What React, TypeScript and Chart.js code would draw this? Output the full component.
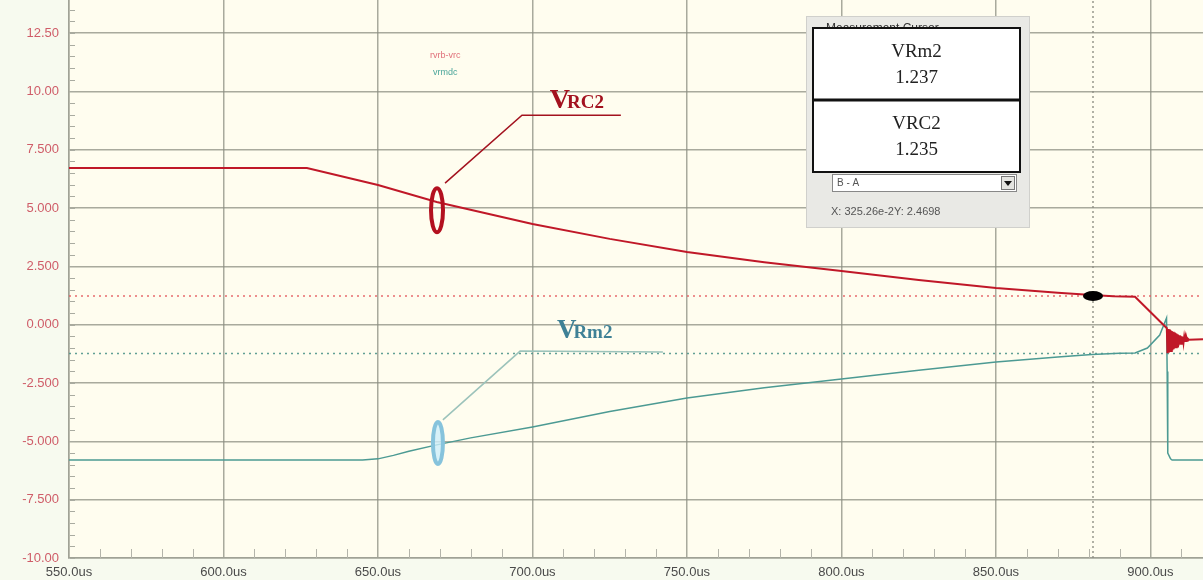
import React, { useEffect, useRef } from 'react';
import { Chart, registerables } from 'chart.js';

Chart.register(...registerables);

// ---- Axis ticks ----
const xTicks = [550, 600, 650, 700, 750, 800, 850, 900];
const yTicks = [12.5, 10, 7.5, 5, 2.5, 0, -2.5, -5, -7.5, -10];
const yTickLabels = ['12.50', '10.00', '7.500', '5.000', '2.500', '0.000', '-2.500', '-5.000', '-7.500', '-10.00'];

// ---- VRC2 (red) waveform, time in us, value in V ----
const vrcTime = [550, 627, 650, 669, 700, 725, 750, 775, 800, 825, 850, 870, 881, 888, 895, 905.3,
  905.5, 905.7, 905.9, 906.1, 906.3, 906.5, 906.7, 906.9, 907.1, 907.3, 907.5, 907.7, 907.9, 908.1,
  908.3, 908.5, 908.7, 908.9, 909.1, 909.3, 909.5, 909.7, 909.9, 910.1, 910.3, 910.5, 910.7, 910.9,
  911.1, 911.3, 911.5, 911.7, 911.9, 912.1, 912.4, 917];
const vrcValue = [6.72, 6.72, 5.99, 5.26, 4.32, 3.68, 3.12, 2.68, 2.30, 1.92, 1.57, 1.37, 1.27, 1.22, 1.20, -0.15,
  -1.22, -0.18, -1.2, -0.21, -1.17, -0.24, -1.13, -0.27, -1.09, -0.3, -1.05, -0.33, -1.01, -0.36,
  -0.97, -0.39, -0.93, -0.42, -0.89, -0.45, -0.85, -0.48, -0.82, -0.5, -0.79, -0.52, -0.76, -0.54,
  -0.73, -0.56, -0.7, -0.58, -0.68, -0.6, -0.64, -0.62];

// ---- VRm2 (teal) waveform ----
const vrmTime = [550, 645, 650, 655, 660, 669, 680, 700, 725, 750, 775, 800, 825, 850, 870, 881, 890, 895,
  899, 903, 905.2, 905.4, 905.6, 906.5, 907, 917];
const vrmValue = [-5.8, -5.8, -5.75, -5.6, -5.42, -5.15, -4.85, -4.38, -3.72, -3.14, -2.70, -2.33, -1.95, -1.60,
  -1.38, -1.28, -1.22, -1.21, -1.0, -0.44, 0.29, -2.0, -5.5, -5.75, -5.8, -5.8];

// ---- Cursor ----
const cursorTime = 881.4;
const vrcCursorLevel = 1.235;
const vrmCursorLevel = -1.237;

const legendLabels = ['rvrb-vrc', 'vrmdc'];
const readoutNames = ['VRm2', 'VRC2'];
const readoutValues = ['1.237', '1.235'];

const X_MIN = 550;
const X_MAX = 917;
const Y_MIN = -10;
const Y_MAX = 13.92;

const gridColor = 'rgba(140,142,130,0.75)';

export default function App() {
  const ref = useRef<HTMLCanvasElement | null>(null);

  useEffect(() => {
    if (!ref.current) return;

    const bgPlugin = {
      id: 'bg',
      beforeDraw(chart: any) {
        const { ctx, chartArea } = chart;
        ctx.save();
        ctx.fillStyle = '#f7faef';
        ctx.fillRect(0, 0, chart.width, chart.height);
        ctx.fillStyle = '#fffdef';
        ctx.fillRect(chartArea.left, chartArea.top, chartArea.right - chartArea.left, chartArea.bottom - chartArea.top);
        ctx.restore();
      },
    };

    const overlayPlugin = {
      id: 'overlay',
      afterDatasetsDraw(chart: any) {
        const { ctx, chartArea } = chart;
        const xs = chart.scales.x;
        const ys = chart.scales.y;
        const px = (v: number) => xs.getPixelForValue(v);
        const py = (v: number) => ys.getPixelForValue(v);
        ctx.save();

        // minor ticks on y axis
        ctx.strokeStyle = '#a9aba0';
        ctx.lineWidth = 1;
        for (let v = -10; v <= 13.5; v += 0.5) {
          const y = Math.round(py(v)) + 0.5;
          ctx.beginPath();
          ctx.moveTo(chartArea.left + 1, y);
          ctx.lineTo(chartArea.left + 6, y);
          ctx.stroke();
        }
        // minor spikes on x axis
        ctx.strokeStyle = '#b4b4aa';
        for (let t = 560; t < X_MAX; t += 10) {
          if (t % 50 === 0) continue;
          const x = Math.round(px(t)) + 0.5;
          ctx.beginPath();
          ctx.moveTo(x, chartArea.bottom);
          ctx.lineTo(x, chartArea.bottom - 9);
          ctx.stroke();
        }

        // legend text
        ctx.font = '9px "Liberation Sans", sans-serif';
        ctx.textBaseline = 'middle';
        ctx.textAlign = 'left';
        ctx.fillStyle = '#e0707a';
        ctx.fillText(legendLabels[0], px(666.8), py(11.55));
        ctx.fillStyle = '#4aa59a';
        ctx.fillText(legendLabels[1], px(667.8), py(10.83));

        // black cursor marker
        ctx.fillStyle = '#000';
        ctx.beginPath();
        ctx.ellipse(px(cursorTime), py(vrcCursorLevel), 10, 5, 0, 0, Math.PI * 2);
        ctx.fill();

        // VRC2 annotation
        ctx.strokeStyle = '#a3121f';
        ctx.lineWidth = 1.5;
        ctx.beginPath();
        ctx.moveTo(px(671.7), py(6.07));
        ctx.lineTo(px(696.6), py(8.98));
        ctx.lineTo(px(728.6), py(8.98));
        ctx.stroke();
        ctx.lineWidth = 4;
        ctx.strokeStyle = '#b3101f';
        ctx.beginPath();
        ctx.ellipse(px(669.1), py(4.91), 6, 22, 0, 0, Math.PI * 2);
        ctx.stroke();
        ctx.fillStyle = '#a3121f';
        ctx.textBaseline = 'alphabetic';
        ctx.font = 'bold 28px "Liberation Serif", serif';
        const vx = px(705.6);
        const vy = py(9.28);
        ctx.fillText('V', vx, vy);
        const vw = ctx.measureText('V').width;
        ctx.font = 'bold 19px "Liberation Serif", serif';
        ctx.fillText('RC2', vx + vw - 3, vy);

        // VRm2 annotation
        ctx.strokeStyle = '#9cc3bb';
        ctx.lineWidth = 1.5;
        ctx.beginPath();
        ctx.moveTo(px(671.0), py(-4.08));
        ctx.lineTo(px(696.0), py(-1.13));
        ctx.lineTo(px(742.2), py(-1.17));
        ctx.stroke();
        ctx.fillStyle = 'rgba(205,238,250,0.8)';
        ctx.strokeStyle = '#86c3dc';
        ctx.lineWidth = 4;
        ctx.beginPath();
        ctx.ellipse(px(669.4), py(-5.07), 5, 21, 0, 0, Math.PI * 2);
        ctx.fill();
        ctx.stroke();
        ctx.fillStyle = '#3f8196';
        ctx.font = 'bold 27px "Liberation Serif", serif';
        const wx = px(707.9);
        const wy = py(-0.57);
        ctx.fillText('V', wx, wy);
        const ww = ctx.measureText('V').width;
        ctx.font = 'bold 19px "Liberation Serif", serif';
        ctx.fillText('Rm2', wx + ww - 3, wy);

        ctx.restore();
      },
      afterDraw(chart: any) {
        const { ctx } = chart;
        ctx.save();
        // measurement cursor panel
        ctx.fillStyle = '#e9e9e5';
        ctx.fillRect(806, 16, 224, 212);
        ctx.strokeStyle = '#d0d0cc';
        ctx.lineWidth = 1;
        ctx.strokeRect(806.5, 16.5, 223, 211);
        ctx.fillStyle = '#333';
        ctx.font = '12px "Liberation Sans", sans-serif';
        ctx.textBaseline = 'middle';
        ctx.textAlign = 'left';
        ctx.fillText('Measurement Cursor', 826, 29);

        // readout boxes
        const bx = 813;
        const bw = 207;
        const top = 28;
        const h = 72;
        for (let i = 0; i < 2; i++) {
          ctx.fillStyle = '#ffffff';
          ctx.fillRect(bx, top + i * h, bw, h);
        }
        ctx.strokeStyle = '#111';
        ctx.lineWidth = 2;
        ctx.strokeRect(bx, top, bw, h * 2);
        ctx.lineWidth = 3;
        ctx.beginPath();
        ctx.moveTo(bx, top + h);
        ctx.lineTo(bx + bw, top + h);
        ctx.stroke();
        ctx.fillStyle = '#222';
        ctx.textAlign = 'center';
        ctx.font = '19px "Liberation Serif", serif';
        for (let i = 0; i < 2; i++) {
          ctx.fillText(readoutNames[i], bx + bw / 2, top + i * h + 24);
          ctx.fillText(readoutValues[i], bx + bw / 2, top + i * h + 50);
        }

        // dropdown
        ctx.fillStyle = '#ffffff';
        ctx.fillRect(832, 174, 185, 18);
        ctx.strokeStyle = '#888';
        ctx.lineWidth = 1;
        ctx.strokeRect(832.5, 174.5, 184, 17);
        ctx.fillStyle = '#e4e4e0';
        ctx.fillRect(1001, 176, 14, 14);
        ctx.strokeStyle = '#777';
        ctx.strokeRect(1001.5, 176.5, 13, 13);
        ctx.fillStyle = '#111';
        ctx.beginPath();
        ctx.moveTo(1004, 181);
        ctx.lineTo(1012, 181);
        ctx.lineTo(1008, 186);
        ctx.closePath();
        ctx.fill();
        ctx.textAlign = 'left';
        ctx.fillStyle = '#555';
        ctx.font = '10px "Liberation Sans", sans-serif';
        ctx.fillText('B - A', 837, 183.5);
        ctx.font = '11px "Liberation Sans", sans-serif';
        ctx.fillText('X: 325.26e-2Y: 2.4698', 831, 212);
        ctx.restore();
      },
    };

    const chart = new Chart(ref.current, {
      type: 'line',
      data: {
        datasets: [
          {
            label: 'VRC2',
            data: vrcTime.map((t, i) => ({ x: t, y: vrcValue[i] })),
            borderColor: '#c01828',
            borderWidth: 2,
            pointRadius: 0,
            tension: 0,
          },
          {
            label: 'VRm2',
            data: vrmTime.map((t, i) => ({ x: t, y: vrmValue[i] })),
            borderColor: '#4c9a93',
            borderWidth: 1.5,
            pointRadius: 0,
            tension: 0,
          },
          {
            label: 'VRC2 cursor',
            data: [{ x: X_MIN, y: vrcCursorLevel }, { x: X_MAX, y: vrcCursorLevel }],
            borderColor: 'rgba(228,90,95,0.9)',
            borderWidth: 1.5,
            borderDash: [2, 4],
            pointRadius: 0,
          },
          {
            label: 'VRm2 cursor',
            data: [{ x: X_MIN, y: vrmCursorLevel }, { x: X_MAX, y: vrmCursorLevel }],
            borderColor: 'rgba(80,150,140,0.9)',
            borderWidth: 1.5,
            borderDash: [2, 4],
            pointRadius: 0,
          },
          {
            label: 'time cursor',
            data: [{ x: cursorTime, y: Y_MIN }, { x: cursorTime, y: Y_MAX }],
            borderColor: 'rgba(140,140,130,0.9)',
            borderWidth: 1.5,
            borderDash: [2, 3],
            pointRadius: 0,
          },
        ],
      },
      options: {
        animation: false,
        responsive: false,
        maintainAspectRatio: false,
        layout: { padding: 0 },
        plugins: { legend: { display: false }, tooltip: { enabled: false } },
        scales: {
          x: {
            type: 'linear',
            min: X_MIN,
            max: X_MAX,
            afterBuildTicks: (s: any) => {
              s.ticks = xTicks.map((v) => ({ value: v }));
            },
            afterFit: (s: any) => {
              s.height = 22;
              s.paddingLeft = 0;
              s.paddingRight = 0;
            },
            ticks: {
              callback: (v: any) => Number(v).toFixed(1) + 'us',
              color: '#4a4a4a',
              font: { size: 13, family: '"Liberation Sans", sans-serif' },
              padding: 7,
              maxRotation: 0,
              autoSkip: false,
            },
            grid: { color: gridColor, lineWidth: 1.5, drawTicks: false },
            border: { color: '#a0a296', width: 1.5 },
          },
          y: {
            type: 'linear',
            min: Y_MIN,
            max: Y_MAX,
            afterBuildTicks: (s: any) => {
              s.ticks = yTicks.map((v) => ({ value: v }));
            },
            afterFit: (s: any) => {
              s.width = 69;
              s.paddingTop = 0;
              s.paddingBottom = 0;
            },
            ticks: {
              callback: (v: any) => {
                const i = yTicks.indexOf(Number(v));
                return i >= 0 ? yTickLabels[i] : '';
              },
              color: '#cf5c68',
              font: { size: 13, family: '"Liberation Sans", sans-serif' },
              padding: 10,
              autoSkip: false,
            },
            grid: { color: gridColor, lineWidth: 1.5, drawTicks: false },
            border: { color: '#a0a296', width: 1.5 },
          },
        },
      },
      plugins: [bgPlugin, overlayPlugin],
    } as any);

    return () => chart.destroy();
  }, []);

  return (
    <div style={{ position: 'absolute', left: 0, top: 0, width: 1203, height: 580 }}>
      <canvas ref={ref} width={1203} height={580} style={{ display: 'block' }} />
    </div>
  );
}
